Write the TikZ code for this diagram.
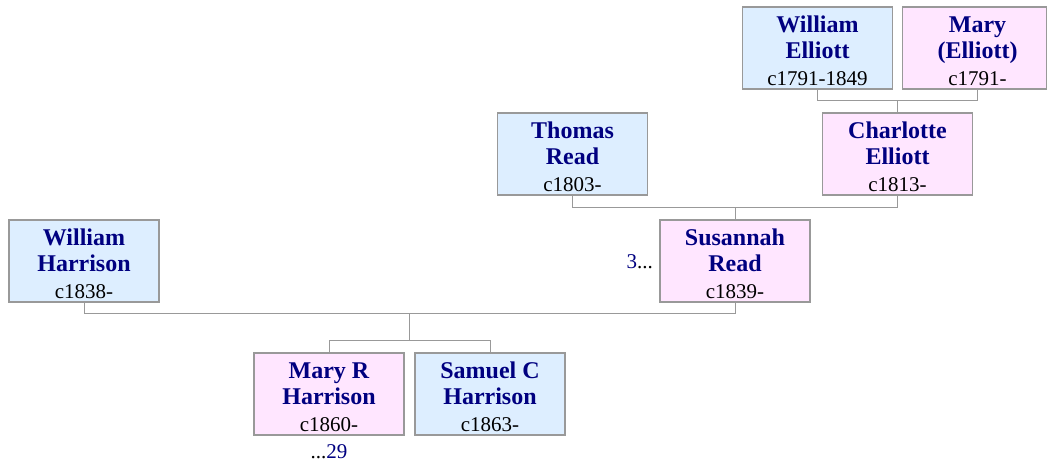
\documentclass[tikz,border=0pt]{standalone}
\usepackage{fontspec}
\setmainfont{Liberation Serif}
\usetikzlibrary{calc}
\definecolor{mbg}{HTML}{DDEEFF}
\definecolor{fbg}{HTML}{FFE6FF}
\definecolor{framecol}{HTML}{999999}
\definecolor{nm}{HTML}{000080}
\tikzset{
  boxbase/.style={draw=framecol, line width=1.2pt, minimum width=150pt, minimum height=82pt, inner sep=0pt, outer sep=0pt, anchor=north},
  male/.style={boxbase, fill=mbg},
  female/.style={boxbase, fill=fbg},
  nametext/.style={anchor=base, inner sep=0pt, text=nm, font=\fontsize{24}{28}\selectfont\bfseries},
  datetext/.style={anchor=base, inner sep=0pt, font=\fontsize{21}{24}\selectfont},
  reftext/.style={inner sep=0pt, font=\fontsize{21}{24}\selectfont},
  link/.style={draw=framecol, line width=1pt}
}
% #1 name, #2 style, #3 cx, #4 top, #5 line1, #6 line2, #7 date, #8 text shift
\newcommand\famperson[8]{%
  \node[#2] (#1) at (#3,#4) {};
  \node[nametext] (#1-a) at ($(#1.north)+(#8,25)$) {#5};
  \node[nametext] (#1-b) at ($(#1.north)+(#8,51)$) {#6};
  \node[datetext] (#1-c) at ($(#1.north)+(#8,78)$) {#7};
}
\begin{document}
\begin{tikzpicture}[x=1pt,y=-1pt]
\useasboundingbox (0,0) rectangle (1047,464);
\famperson{welliott}{male}{817.5}{7}{William}{Elliott}{c1791-1849}{0}
\famperson{marye}{female,minimum width=144pt}{974.5}{7}{Mary}{(Elliott)}{c1791-}{3}
\famperson{thomas}{male}{572.5}{113}{Thomas}{Read}{c1803-}{0}
\famperson{charlotte}{female}{897.5}{113}{Charlotte}{Elliott}{c1813-}{0}
\famperson{wharrison}{male}{84}{220}{William}{Harrison}{c1838-}{0}
\famperson{susannah}{female}{735}{220}{Susannah}{Read}{c1839-}{0}
\famperson{maryr}{female}{329}{353}{Mary R}{Harrison}{c1860-}{0}
\famperson{samuel}{male}{490}{353}{Samuel C}{Harrison}{c1863-}{0}

% family connectors
\coordinate (bar1) at ($(charlotte.north)+(0,-13)$);
\draw[link] (welliott.south) |- (bar1);
\draw[link] ($(marye.south)+(3,0)$) |- (bar1);
\draw[link] (bar1) -- (charlotte.north);

\coordinate (bar2) at ($(susannah.north)+(0,-13)$);
\draw[link] (thomas.south) |- (bar2);
\draw[link] (charlotte.south) |- (bar2);
\draw[link] (bar2) -- (susannah.north);

\coordinate (bar3) at (409.5,313);
\coordinate (bar4) at (409.5,340);
\draw[link] (wharrison.south) |- (bar3);
\draw[link] (susannah.south) |- (bar3);
\draw[link] (bar3) -- (bar4);
\draw[link] (bar4) -| (maryr.north);
\draw[link] (bar4) -| (samuel.north);

% reference markers
\node[reftext, anchor=base east] (ref3) at ($(susannah.west)+(-7,7)$) {\textcolor{nm}{3}...};
\node[reftext, anchor=base] (ref29) at ($(maryr.south)+(0,23)$) {...\textcolor{nm}{29}};
\end{tikzpicture}
\end{document}
